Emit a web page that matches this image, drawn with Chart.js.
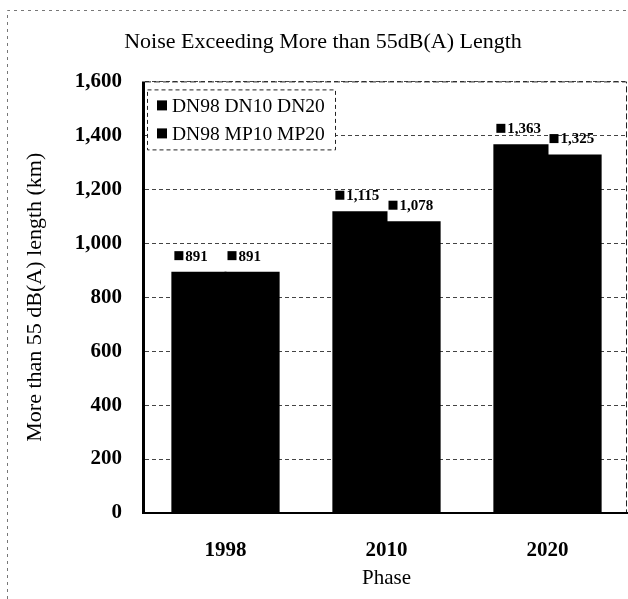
<!DOCTYPE html>
<html>
<head>
<meta charset="utf-8">
<title>Noise Exceeding More than 55dB(A) Length</title>
<script src="https://cdn.jsdelivr.net/npm/chart.js@4/dist/chart.umd.min.js"></script>
<style>
  html, body { margin: 0; padding: 0; background: #fff; }
  #wrap { position: relative; width: 628px; height: 599px; }
</style>
</head>
<body>
<div id="wrap"><canvas id="c" width="628" height="599"></canvas></div>
<script>
// Phases on the x axis
const phases = ['1998', '2010', '2020'];
// Length (km) of road exposed to more than 55 dB(A), per scenario
const scenarioDN = [891, 1115, 1363];
const scenarioMP = [891, 1078, 1325];
const seriesNames = ['DN98 DN10 DN20', 'DN98 MP10 MP20'];
// Value axis
const yMin = 0, yMax = 1600, yStep = 200;

const serif = '"Liberation Serif", "Times New Roman", serif';

// Outer dashed frame around the figure
const framePlugin = {
  id: 'frame',
  beforeDraw(chart) {
    const ctx = chart.ctx;
    ctx.save();
    ctx.strokeStyle = '#777';
    ctx.lineWidth = 1;
    ctx.setLineDash([3, 4]);
    ctx.beginPath();
    ctx.moveTo(7.5, 599);
    ctx.lineTo(7.5, 10.5);
    ctx.lineTo(628, 10.5);
    ctx.stroke();
    ctx.restore();
  }
};

// Plot frame: dashed top and right edges, solid heavy left and bottom axes
const axesPlugin = {
  id: 'axesFrame',
  afterDatasetsDraw(chart) {
    const {ctx, chartArea: a} = chart;
    ctx.save();
    ctx.strokeStyle = '#222';
    ctx.lineWidth = 1;
    ctx.setLineDash([6, 3]);
    ctx.beginPath();
    ctx.moveTo(a.left, a.top + 0.5);
    ctx.lineTo(a.right - 1.5, a.top + 0.5);
    ctx.lineTo(a.right - 1.5, a.bottom);
    ctx.stroke();
    ctx.setLineDash([]);
    ctx.strokeStyle = '#000';
    ctx.lineWidth = 3;
    ctx.beginPath();
    ctx.moveTo(a.left - 1.5, a.top);
    ctx.lineTo(a.left - 1.5, a.bottom + 1);
    ctx.stroke();
    ctx.lineWidth = 2;
    ctx.beginPath();
    ctx.moveTo(a.left - 3, a.bottom);
    ctx.lineTo(a.right, a.bottom);
    ctx.stroke();
    ctx.restore();
  }
};

// Value labels: small square marker plus the value, above each bar
const valueLabelPlugin = {
  id: 'valueLabels',
  afterDatasetsDraw(chart) {
    const ctx = chart.ctx;
    ctx.save();
    ctx.font = 'bold 15px ' + serif;
    ctx.fillStyle = '#000';
    ctx.textBaseline = 'middle';
    ctx.textAlign = 'left';
    chart.data.datasets.forEach((ds, i) => {
      const meta = chart.getDatasetMeta(i);
      meta.data.forEach((bar, j) => {
        const left = bar.x - bar.width / 2;
        const cy = bar.y - 17;
        ctx.fillRect(left + 2, cy - 4.5, 9, 9);
        ctx.fillText(ds.data[j].toLocaleString('en-US'), left + 13, cy + 1);
      });
    });
    ctx.restore();
  }
};

// Legend in a dashed box inside the plot area
const boxLegendPlugin = {
  id: 'boxLegend',
  afterDraw(chart) {
    const {ctx, chartArea: a} = chart;
    const x = a.left + 2, y = a.top + 8, w = 188, h = 60;
    ctx.save();
    ctx.fillStyle = '#fff';
    ctx.fillRect(x, y, w, h);
    ctx.strokeStyle = '#222';
    ctx.lineWidth = 1;
    ctx.setLineDash([4, 3]);
    ctx.strokeRect(x + 0.5, y + 0.5, w, h);
    ctx.setLineDash([]);
    ctx.font = '19.5px ' + serif;
    ctx.textBaseline = 'middle';
    chart.data.datasets.forEach((ds, i) => {
      const ly = y + 16 + i * 28;
      ctx.fillStyle = ds.backgroundColor;
      ctx.fillRect(x + 10, ly - 5, 10, 10);
      ctx.fillStyle = '#000';
      ctx.fillText(ds.label, x + 25, ly + 1);
    });
    ctx.restore();
  }
};

new Chart(document.getElementById('c'), {
  type: 'bar',
  data: {
    labels: phases,
    datasets: [
      { label: seriesNames[0], data: scenarioDN, backgroundColor: '#000', borderWidth: 0, inflateAmount: 1 },
      { label: seriesNames[1], data: scenarioMP, backgroundColor: '#000', borderWidth: 0, inflateAmount: 1 }
    ]
  },
  options: {
    responsive: false,
    animation: false,
    devicePixelRatio: 1,
    layout: { padding: { left: 18, right: 0, top: 0, bottom: 8 } },
    categoryPercentage: 0.66,
    barPercentage: 1.0,
    plugins: {
      legend: { display: false },
      tooltip: { enabled: false },
      title: {
        display: true,
        text: 'Noise Exceeding More than 55dB(A) Length',
        color: '#000',
        font: { family: serif, size: 22, weight: 'normal' },
        padding: { top: 29, bottom: 26 }
      }
    },
    scales: {
      x: {
        afterFit(scale) { scale.height = 78; },
        grid: { display: false, drawTicks: false },
        border: { display: false },
        ticks: { color: '#000', font: { family: serif, size: 21, weight: 'bold' }, padding: 25 },
        title: {
          display: true, text: 'Phase', color: '#000',
          font: { family: serif, size: 21, weight: 'normal' }, padding: { top: 2, bottom: 0 }
        }
      },
      y: {
        min: yMin, max: yMax,
        afterFit(scale) { scale.width = 127; },
        grid: { color: '#444', lineWidth: 1, drawTicks: false },
        border: { display: false, dash: [4, 3] },
        ticks: {
          stepSize: yStep, color: '#000', padding: 23,
          font: { family: serif, size: 21, weight: 'bold' },
          callback: v => v.toLocaleString('en-US')
        },
        title: {
          display: true, text: 'More than 55 dB(A) length (km)', color: '#000',
          font: { family: serif, size: 22, weight: 'normal' }, padding: { top: 4, bottom: 0 }
        }
      }
    }
  },
  plugins: [framePlugin, axesPlugin, valueLabelPlugin, boxLegendPlugin]
});
</script>
</body>
</html>
